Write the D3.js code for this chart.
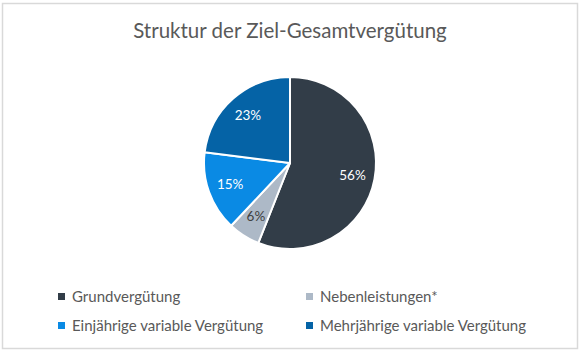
<!DOCTYPE html>
<html><head><meta charset="utf-8">
<script src="https://cdn.jsdelivr.net/npm/d3@7"></script>
<style>body{margin:0;background:#fff}svg{display:block}</style>
</head><body>
<svg id="c" width="583" height="355"></svg>
<script>
const categories = ["Grundvergütung", "Nebenleistungen*", "Einjährige variable Vergütung", "Mehrjährige variable Vergütung"];
const values = [56, 6, 15, 23];
const colors = ["#323D48", "#ADB9C7", "#0A8AE4", "#0563A6"];
const labelColors = ["#ffffff", "#404040", "#ffffff", "#ffffff"];
const title = "Struktur der Ziel-Gesamtvergütung";

const svg = d3.select("#c");
const font = "Lato, 'Open Sans', sans-serif";

svg.append("rect").attr("x", 2.5).attr("y", 3.5).attr("width", 575).attr("height", 345)
  .attr("fill", "#fff").attr("stroke", "#d9d9d9").attr("stroke-width", 1.5);

svg.append("text").attr("x", 290).attr("y", 38).attr("text-anchor", "middle")
  .attr("font-family", font).attr("font-size", 20.5).attr("fill", "#595959").text(title);

const cx = 290, cy = 163, r = 86;
const data = categories.map((c, i) => ({c, v: values[i], i}));
const pie = d3.pie().value(d => d.v).sort(null);
const arc = d3.arc().innerRadius(0).outerRadius(r);
const arcs = pie(data);
const g = svg.append("g").attr("transform", `translate(${cx},${cy})`);
g.selectAll("path").data(arcs).join("path")
  .attr("d", arc).attr("fill", d => colors[d.data.i])
  .attr("stroke", "#fff").attr("stroke-width", 2).attr("stroke-linejoin", "round");

const lab = d3.arc().innerRadius(r * 0.74).outerRadius(r * 0.74);
g.selectAll("text").data(arcs).join("text")
  .attr("transform", d => `translate(${lab.centroid(d)})`)
  .attr("text-anchor", "middle").attr("dy", "0.35em")
  .attr("font-family", font).attr("font-size", 13.5)
  .attr("fill", d => labelColors[d.data.i])
  .text(d => d.data.v + "%");

const legPos = [[62, 297], [310, 297], [62, 326], [310, 326]];
const leg = svg.append("g");
data.forEach((d, i) => {
  const [x, y] = legPos[i];
  leg.append("rect").attr("x", x - 4).attr("y", y - 4).attr("width", 7).attr("height", 7).attr("fill", colors[i]);
  leg.append("text").attr("x", x + 10).attr("y", y).attr("dy", "0.35em")
    .attr("font-family", font).attr("font-size", 15).attr("fill", "#595959").text(d.c);
});
</script>
</body></html>
